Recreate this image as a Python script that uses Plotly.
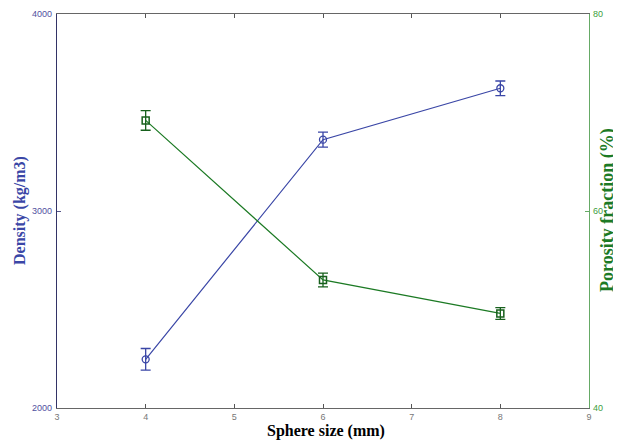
import plotly.graph_objects as go

sphere_size = [4, 6, 8]
density = [2247, 3362, 3623]
density_err = [55, 38, 37]
porosity = [69.2, 53.0, 49.6]
porosity_err = [1.0, 0.7, 0.6]

x_ticks = [3, 4, 5, 6, 7, 8, 9]
y1_ticks = [2000, 3000, 4000]
y2_ticks = [40, 60, 80]

blue = "#3a46a6"
green = "#1c7a24"

fig = go.Figure()
fig.add_trace(go.Scatter(
    x=sphere_size, y=density, mode="lines+markers",
    line=dict(color=blue, width=1.2),
    marker=dict(symbol="circle-open", size=7, color=blue, line=dict(width=1.3)),
    error_y=dict(type="data", array=density_err, color=blue, thickness=1.3, width=5),
    yaxis="y", showlegend=False))
fig.add_trace(go.Scatter(
    x=sphere_size, y=porosity, mode="lines+markers",
    line=dict(color=green, width=1.2),
    marker=dict(symbol="square-open", size=7, color="#17601c", line=dict(width=1.5)),
    error_y=dict(type="data", array=porosity_err, color="#17601c", thickness=1.3, width=5),
    yaxis="y2", showlegend=False))

tickfont = dict(family="Liberation Sans, Arial, sans-serif", size=9)
fig.update_layout(
    width=613, height=437,
    margin=dict(l=49, r=32, t=6, b=37),
    plot_bgcolor="white", paper_bgcolor="white",
    xaxis=dict(range=[3, 9], tickvals=x_ticks, ticks="inside", ticklen=4,
               tickcolor="#555555", showline=True, linecolor="#666666", linewidth=1.2,
               mirror="ticks", showgrid=False, zeroline=False, automargin=False,
               tickfont=dict(tickfont, color="#777777")),
    yaxis=dict(range=[2000, 4000], tickvals=y1_ticks, ticks="inside", ticklen=4,
               tickcolor="#555588", showline=True, linecolor="#333366", linewidth=1.2,
               showgrid=False, zeroline=False, ticklabelstandoff=2, automargin=False,
               tickfont=dict(tickfont, color="#5050a0")),
    yaxis2=dict(range=[40, 80], tickvals=y2_ticks, ticks="inside", ticklen=4,
                tickcolor="#66aa66", showline=True, linecolor="#66aa66", linewidth=1.2,
                overlaying="y", side="right", showgrid=False, zeroline=False,
                ticklabelstandoff=1, automargin=False,
                tickfont=dict(tickfont, color="#40a040")),
)

titlefont = dict(family="Liberation Serif, Times New Roman, serif", size=16)
fig.add_annotation(text="<b>Density (kg/m3)</b>", xref="paper", yref="paper",
                   x=0, y=0.5, xshift=-37, textangle=-90, showarrow=False,
                   xanchor="center", yanchor="middle", font=dict(titlefont, color=blue))
fig.add_annotation(text="<b>Porosity fraction (%)</b>", xref="paper", yref="paper",
                   x=1, y=0.5, xshift=18, yshift=1, textangle=-90, showarrow=False,
                   xanchor="center", yanchor="middle",
                   font=dict(titlefont, size=18, color=green))
fig.add_annotation(text="<b>Sphere size (mm)</b>", xref="paper", yref="paper",
                   x=0.5, y=0, xshift=3, yshift=-23, showarrow=False,
                   xanchor="center", yanchor="middle", font=dict(titlefont, color="black"))

fig.write_html("out.html")
